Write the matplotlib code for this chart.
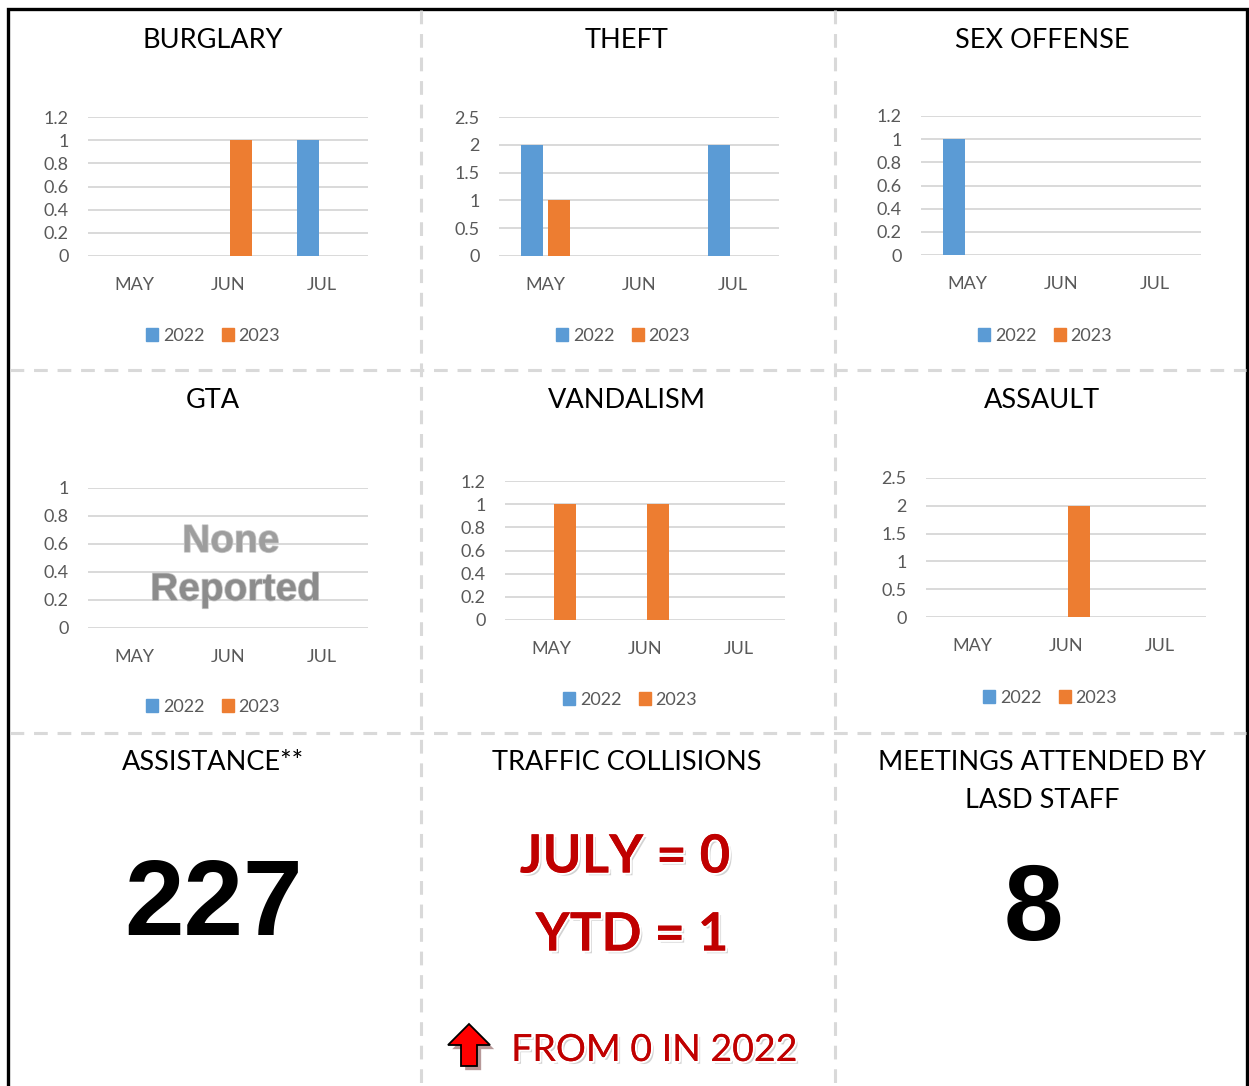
import matplotlib
matplotlib.use("Agg")
import matplotlib.pyplot as plt
import matplotlib.patheffects as pe
from matplotlib.patches import FancyArrow, Patch

plt.rcParams['font.family'] = ['Lato', 'DejaVu Sans']

# data
months = ["MAY", "JUN", "JUL"]
years = ["2022", "2023"]

burglary_2022 = [0, 0, 1]
burglary_2023 = [0, 1, 0]
theft_2022 = [2, 0, 2]
theft_2023 = [1, 0, 0]
sex_offense_2022 = [1, 0, 0]
sex_offense_2023 = [0, 0, 0]
gta_2022 = [0, 0, 0]
gta_2023 = [0, 0, 0]
vandalism_2022 = [0, 0, 0]
vandalism_2023 = [1, 1, 0]
assault_2022 = [0, 0, 0]
assault_2023 = [0, 2, 0]

assistance_count = 227
meetings_count = 8
collisions_month = 0
collisions_ytd = 1
collisions_prev_year = 0

BLUE = "#5B9BD5"
ORANGE = "#ED7D31"
GRID = "#d9d9d9"
TICK = "#595959"
RED = "#C00000"
TITLE_SIZE = 19.5

W, H = 1249, 1086
fig = plt.figure(figsize=(W / 100, H / 100), dpi=100)

# overlay in pixel coordinates for frame, dividers and free text
ov = fig.add_axes([0, 0, 1, 1], zorder=0)
ov.set_xlim(0, W)
ov.set_ylim(H, 0)
ov.axis("off")

# outer frame (no bottom edge, it runs off the page)
ov.plot([8.5, 8.5, 1247, 1247], [H, 9, 9, H], color="black", lw=2.4,
        solid_joinstyle="miter")

# dashed cell dividers
dash = dict(color=GRID, lw=2.2, dashes=(4.5, 3.2))
for x in (421, 835):
    ov.plot([x, x], [10, H], **dash)
for y in (370, 733):
    ov.plot([10, 1246], [y, y], **dash)


def px_axes(left, top, bottom, width=280):
    return fig.add_axes([left / W, (H - bottom) / H, width / W, (bottom - top) / H])


def fmt(v):
    return ("%.1f" % v).rstrip("0").rstrip(".")


def bar_panel(title, tx, ty, box, vals22, vals23, ymax, step, leg_xy, xlab_pad=15):
    ov.text(tx, ty, title, ha="center", va="center", fontsize=TITLE_SIZE, color="black")
    ax = px_axes(*box)
    ax.set_facecolor("none")
    x = range(len(months))
    w = 0.235
    ax.bar([i - 0.143 for i in x], vals22, width=w, color=BLUE, label=years[0], zorder=3)
    ax.bar([i + 0.143 for i in x], vals23, width=w, color=ORANGE, label=years[1], zorder=3)
    ax.set_xlim(-0.5, 2.5)
    ax.set_ylim(0, ymax)
    ticks = []
    v = 0.0
    while v <= ymax + 1e-9:
        ticks.append(round(v, 2))
        v += step
    ax.set_yticks(ticks)
    ax.set_yticklabels([fmt(t) for t in ticks])
    ax.set_xticks(list(x))
    ax.set_xticklabels(months)
    ax.yaxis.grid(True, color=GRID, lw=1.4, zorder=0)
    ax.set_axisbelow(True)
    for s in ax.spines.values():
        s.set_visible(False)
    ax.tick_params(axis="both", length=0, labelsize=13, colors=TICK)
    ax.tick_params(axis="y", pad=14)
    ax.tick_params(axis="x", pad=xlab_pad)
    handles = [Patch(color=BLUE, label=years[0]), Patch(color=ORANGE, label=years[1])]
    ax.legend(handles=handles, loc="center", ncol=2, frameon=False,
              bbox_to_anchor=(leg_xy[0] / W, 1 - leg_xy[1] / H),
              bbox_transform=fig.transFigure, fontsize=13, labelcolor=TICK,
              handlelength=0.68, handleheight=0.68, handletextpad=0.25,
              columnspacing=0.95)
    return ax


bar_panel("BURGLARY", 213, 40, (88, 117, 256), burglary_2022, burglary_2023,
          1.2, 0.2, (213, 336))
bar_panel("THEFT", 627, 40, (499, 117, 256), theft_2022, theft_2023,
          2.5, 0.5, (623, 336))
bar_panel("SEX OFFENSE", 1042, 40, (921, 116, 255), sex_offense_2022, sex_offense_2023,
          1.2, 0.2, (1045, 336))
gta = bar_panel("GTA", 213, 400, (88, 488, 628), gta_2022, gta_2023,
                1.0, 0.2, (213, 707))
bar_panel("VANDALISM", 627, 400, (505, 481, 620), vandalism_2022, vandalism_2023,
          1.2, 0.2, (630, 700))
bar_panel("ASSAULT", 1042, 400, (926, 478, 617), assault_2022, assault_2023,
          2.5, 0.5, (1050, 698))

none_fx = [pe.withStroke(linewidth=1.2, foreground="#c8c8c8")]
gta.text(0.51, 0.615, "None", transform=gta.transAxes, ha="center", va="center",
         fontsize=28, fontweight="bold", color="#9e9e9e", family="Liberation Sans",
         zorder=10, path_effects=none_fx)
gta.text(0.527, 0.27, "Reported", transform=gta.transAxes, ha="center", va="center",
         fontsize=28, fontweight="bold", color="#8c8c8c", family="Liberation Sans",
         zorder=10, path_effects=none_fx)

# bottom row
ov.text(213, 762, "ASSISTANCE**", ha="center", va="center", fontsize=TITLE_SIZE)
ov.text(627, 762, "TRAFFIC COLLISIONS", ha="center", va="center", fontsize=TITLE_SIZE)
ov.text(1042, 762, "MEETINGS ATTENDED BY", ha="center", va="center", fontsize=TITLE_SIZE)
ov.text(1042, 800, "LASD STAFF", ha="center", va="center", fontsize=TITLE_SIZE)

ov.text(214, 935, str(assistance_count), ha="center", va="baseline", fontsize=77,
        fontweight="bold", family="Liberation Sans")
ov.text(1033, 940, str(meetings_count), ha="center", va="baseline", fontsize=77,
        fontweight="bold", family="Liberation Sans")

red_fx = [pe.SimplePatchShadow(offset=(2, -2), shadow_rgbFace="#808080", alpha=0.35),
          pe.withStroke(linewidth=3, foreground="white"), pe.Normal()]
ov.text(625, 857, f"JULY = {collisions_month}", ha="center", va="center", fontsize=38,
        fontweight="bold", color=RED, path_effects=red_fx)
ov.text(632, 935, f"YTD = {collisions_ytd}", ha="center", va="center", fontsize=38,
        fontweight="bold", color=RED, path_effects=red_fx)
ov.text(654, 1050, f"FROM {collisions_prev_year} IN 2022", ha="center", va="center",
        fontsize=27, color=RED, path_effects=red_fx)

arrow = FancyArrow(469, 1066, 0, -42, width=16, head_width=42, head_length=21,
                   length_includes_head=True, facecolor="#ff0000", edgecolor="black",
                   lw=1.3, path_effects=[pe.SimplePatchShadow(offset=(3, -3), alpha=0.4),
                                         pe.Normal()])
ov.add_patch(arrow)

fig.savefig("out.png", dpi=100)
